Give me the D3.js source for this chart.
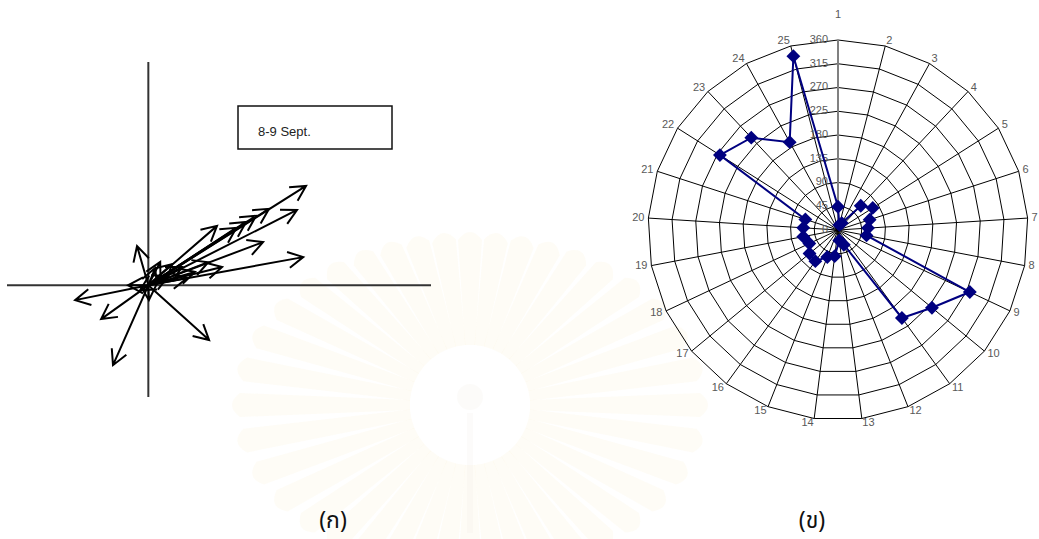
<!DOCTYPE html>
<html>
<head>
<meta charset="utf-8">
<script src="https://cdn.jsdelivr.net/npm/d3@7"></script>
<style>
body { margin: 0; background: #fff; }
svg { display: block; }
text { font-family: "Liberation Sans", Arial, sans-serif; }
</style>
</head>
<body>
<script>
var w = 1039, h = 539;

// (ก) current vectors, u = east, v = north
var vecU = [5.58, 5.26, 4.27, 3.81, 3.46, 3.11, 4.06, 5.48, 2.43, 2.61, 1.65, 1.37,
            -0.40, -2.59, -1.67, -1.25, 2.15, -0.72, 0.42, 0.84, 1.19, 0.24, 0.02, -0.29, 0.70, 2.12];
var vecV = [3.56, 2.70, 2.74, 2.49, 2.27, 2.06, 1.55, 1.01, 2.13, 0.66, 0.48, 0.26,
            1.41, -0.53, -1.21, -2.86, -1.96, 0.00, 0.84, 0.76, 0.66, 0.62, -0.53, -0.17, 0.33, 0.83];
var legendText = "8-9 Sept.";

// (ข) direction per hour, radar chart
var radarCats = ["1","2","3","4","5","6","7","8","9","10","11","12","13",
                 "14","15","16","17","18","19","20","21","22","23","24","25"];
var radarVals = [44, 10, 15, 63, 78, 63, 57, 55, 276, 231, 206, 30, 20,
                 50, 55, 73, 70, 60, 67, 66, 65, 265, 240, 190, 340];
var radarTicks = [0, 45, 90, 135, 180, 225, 270, 315, 360];

var captions = ["(ก)", "(ข)"];

var svg = d3.select("body").append("svg")
	.attr("width", w)
	.attr("height", h)

//WATERMARK
var wm = svg.append("g").attr("transform", "translate(470,405)")
var nRays = 40;
d3.range(nRays).forEach(function(k) {
	var t = k * 2 * Math.PI / nRays;
	var rOut = 1 / Math.sqrt(Math.pow(Math.sin(t) / 240, 2) + Math.pow(Math.cos(t) / 175, 2));
	wm.append("path")
		.attr("d", "M-5,-60 L-12," + (-(rOut - 10)) + " Q0," + (-(rOut + 6)) + " 12," + (-(rOut - 10)) + " L5,-60 Z")
		.attr("transform", "rotate(" + (t * 180 / Math.PI) + ")")
		.style("fill", "#f3e4b0")
		.style("opacity", 0.11)
})
wm.append("circle").attr("cy", -8).attr("r", 13).style("fill", "#e8e2d4").style("opacity", 0.15)
wm.append("rect").attr("x", -3).attr("y", 8).attr("width", 6).attr("height", 120).style("fill", "#e8e2d4").style("opacity", 0.12)

//VECTEURS
var x = d3.scaleLinear().domain([-5, 10]).range([7, 431]);
var y = d3.scaleLinear().domain([-4, 8]).range([397, 62]);

var left = svg.append("g")

left.append("line")
	.attr("x1", x(0)).attr("x2", x(0))
	.attr("y1", y(8)).attr("y2", y(-4))
	.style("stroke", "#333").style("stroke-width", 2)
left.append("line")
	.attr("x1", x(-5)).attr("x2", x(10))
	.attr("y1", y(0)).attr("y2", y(0))
	.style("stroke", "#333").style("stroke-width", 2)

left.append("rect")
	.attr("x", 238).attr("y", 106)
	.attr("width", 154).attr("height", 43)
	.style("fill", "none").style("stroke", "#111").style("stroke-width", 1.5)
left.append("text")
	.attr("x", 258).attr("y", 133)
	.attr("dominant-baseline", "middle")
	.style("font-size", "13px").style("fill", "#222")
	.text(legendText)

var headLen = 17, headAng = 28 * Math.PI / 180;
left.selectAll("path.vec")
	.data(d3.range(vecU.length))
	.enter()
	.append("path")
	.attr("class", "vec")
	.attr("d", function(i) {
		var x0 = x(0), y0 = y(0), x1 = x(vecU[i]), y1 = y(vecV[i]);
		var a = Math.atan2(y1 - y0, x1 - x0);
		var b1x = x1 - headLen * Math.cos(a - headAng), b1y = y1 - headLen * Math.sin(a - headAng);
		var b2x = x1 - headLen * Math.cos(a + headAng), b2y = y1 - headLen * Math.sin(a + headAng);
		return "M" + x0 + "," + y0 + "L" + x1 + "," + y1 +
			"M" + b1x + "," + b1y + "L" + x1 + "," + y1 + "L" + b2x + "," + b2y;
	})
	.style("fill", "none")
	.style("stroke", "#000")
	.style("stroke-width", 2)
	.style("stroke-linejoin", "miter")

//RADAR
var cx = 838, cy = 230;
var r = d3.scaleLinear().domain([0, 360]).range([0, 190]);
var ang = d3.scaleLinear().domain([0, radarCats.length]).range([0, 2 * Math.PI]);

var radar = svg.append("g").attr("transform", "translate(" + cx + "," + cy + ")")

var ring = d3.lineRadial()
	.angle(function(d, i) { return ang(i); })
	.curve(d3.curveLinearClosed)

radarTicks.slice(1).forEach(function(t) {
	radar.append("path")
		.attr("d", ring.radius(function() { return r(t); })(radarCats))
		.style("fill", "none").style("stroke", "#000").style("stroke-width", 1)
})

radar.selectAll("line.spoke")
	.data(radarCats)
	.enter()
	.append("line")
	.attr("class", "spoke")
	.attr("x2", function(d, i) { return r(360) * Math.sin(ang(i)); })
	.attr("y2", function(d, i) { return -r(360) * Math.cos(ang(i)); })
	.style("stroke", function(d, i) { return i == 0 ? "#808080" : "#000"; })
	.style("stroke-width", function(d, i) { return i == 0 ? 2 : 1; })

radar.selectAll("text.tick")
	.data(radarTicks)
	.enter()
	.append("text")
	.attr("class", "tick")
	.attr("x", -10)
	.attr("y", function(d) { return -r(d); })
	.attr("text-anchor", "end")
	.attr("dominant-baseline", "middle")
	.style("font-size", "11px").style("fill", "#595959")
	.text(function(d) { return d; })

radar.selectAll("text.cat")
	.data(radarCats)
	.enter()
	.append("text")
	.attr("class", "cat")
	.attr("x", function(d, i) { return r(360) * Math.sin(ang(i)) + 4 * Math.sin(ang(i)); })
	.attr("y", function(d, i) {
		if (i == 0) return -215;
		return -r(360) * Math.cos(ang(i)) - 5 * Math.cos(ang(i));
	})
	.attr("text-anchor", function(d, i) {
		var s = Math.sin(ang(i));
		return s > 0.05 ? "start" : (s < -0.05 ? "end" : "middle");
	})
	.attr("dominant-baseline", "middle")
	.style("font-size", "11px").style("fill", "#595959")
	.text(function(d) { return d; })

var dataLine = d3.lineRadial()
	.angle(function(d, i) { return ang(i); })
	.radius(function(d) { return r(d); })
	.curve(d3.curveLinearClosed)

radar.append("path")
	.attr("d", dataLine(radarVals))
	.style("fill", "none").style("stroke", "#000080").style("stroke-width", 2)

radar.selectAll("path.mk")
	.data(radarVals)
	.enter()
	.append("path")
	.attr("class", "mk")
	.attr("d", d3.symbol().type(d3.symbolSquare).size(96))
	.attr("transform", function(d, i) {
		return "translate(" + (r(d) * Math.sin(ang(i))) + "," + (-r(d) * Math.cos(ang(i))) + ") rotate(45)";
	})
	.style("fill", "#000080")

//LEGENDES
svg.selectAll("text.cap")
	.data(captions)
	.enter()
	.append("text")
	.attr("class", "cap")
	.attr("x", function(d, i) { return i == 0 ? 333 : 812; })
	.attr("y", 522)
	.attr("text-anchor", "middle")
	.attr("dominant-baseline", "middle")
	.style("font-family", "'Noto Sans Thai', 'Noto Sans', 'DejaVu Sans', sans-serif")
	.style("font-size", "23px").style("fill", "#111")
	.text(function(d) { return d; })
</script>
</body>
</html>
